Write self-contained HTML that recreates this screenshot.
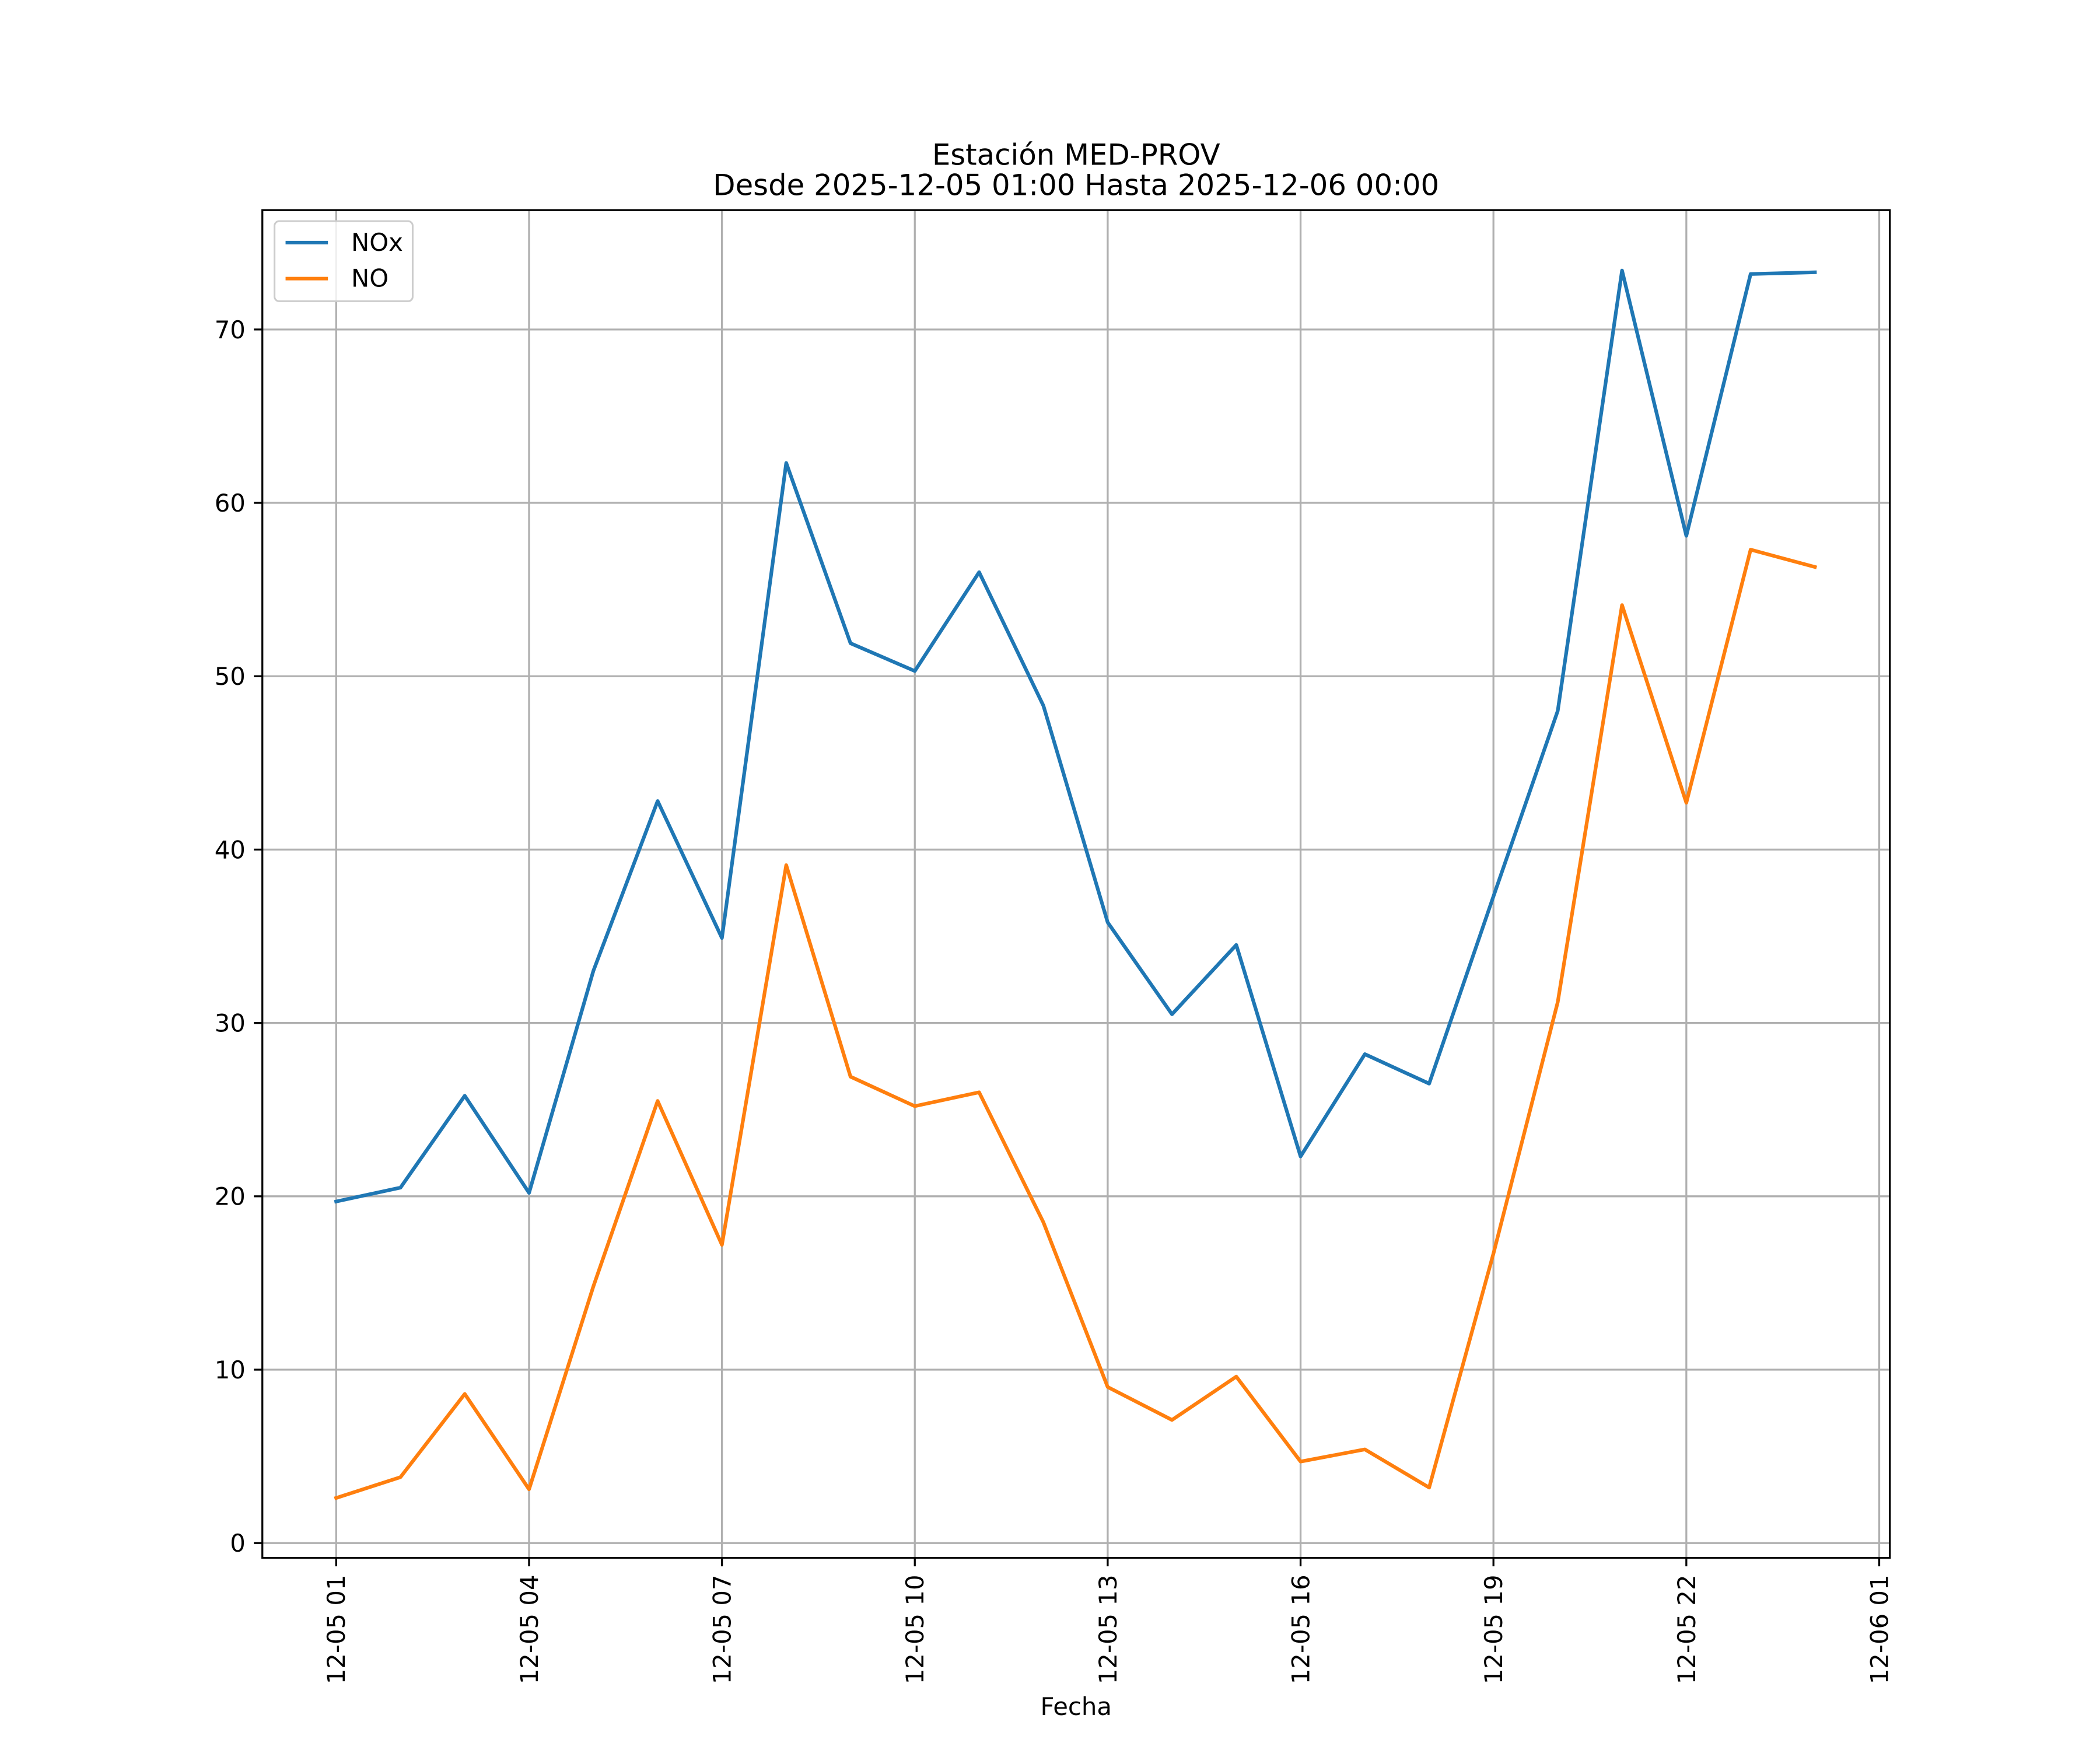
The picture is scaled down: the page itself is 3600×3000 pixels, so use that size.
<!DOCTYPE html>
<html><head><meta charset="utf-8"><style>
html,body{margin:0;padding:0;background:#fff;}
svg{display:block;font-family:"DejaVu Sans","Liberation Sans",sans-serif;}
</style></head><body>
<svg id="chart" width="3600" height="3000" viewBox="0 0 3600 3000" xmlns="http://www.w3.org/2000/svg">
<rect width="3600" height="3000" fill="#fff"/>
<g transform="scale(0.995)">
<g id="grid"></g><g id="series"></g><g id="axes"></g>
<text x="1854" y="284" font-size="50" text-anchor="middle">Estación MED-PROV</text>
<text x="1854" y="336" font-size="50" text-anchor="middle">Desde 2025-12-05 01:00 Hasta 2025-12-06 00:00</text>
<text x="1854" y="2955" font-size="42" text-anchor="middle">Fecha</text>
<g>
<rect x="473" y="381" width="238" height="138" rx="8" fill="#fff" fill-opacity="0.8" stroke="#ccc" stroke-width="3"/>
<line x1="492" y1="418" x2="565" y2="418" stroke="#1f77b4" stroke-width="6"/>
<text x="605" y="432" font-size="42">NOx</text>
<line x1="492" y1="480" x2="565" y2="480" stroke="#ff7f0e" stroke-width="6"/>
<text x="605" y="494" font-size="42">NO</text>
</g>
</g>
</svg>
<script>
const hours=[1,2,3,4,5,6,7,8,9,10,11,12,13,14,15,16,17,18,19,20,21,22,23,24];
const noxValues=[19.7,20.5,25.8,20.2,33,42.8,34.9,62.3,51.9,50.3,56,48.3,35.8,30.5,34.5,22.3,28.2,26.5,37.3,48,73.4,58.1,73.2,73.3];
const noValues=[2.6,3.8,8.6,3.1,14.8,25.5,17.2,39.1,26.9,25.2,26,18.5,9,7.1,9.6,4.7,5.4,3.2,16.7,31.2,54.1,42.7,57.3,56.3];
const xTickHours=[1,4,7,10,13,16,19,22,25];
const xTickLabels=["12-05 01","12-05 04","12-05 07","12-05 10","12-05 13","12-05 16","12-05 19","12-05 22","12-06 01"];
const yTicks=[0,10,20,30,40,50,60,70];
const L=452,R=3256,T=362,B=2684;
function xs(h){return 579.2+(h-1)*110.77;}
function ys(v){return 2658.5-v*29.869;}
const NS="http://www.w3.org/2000/svg";
function mk(tag,attrs,parent){const e=document.createElementNS(NS,tag);for(const k in attrs)e.setAttribute(k,attrs[k]);parent.appendChild(e);return e;}
const grid=document.getElementById('grid'),axes=document.getElementById('axes'),series=document.getElementById('series');
xTickHours.forEach((h,i)=>{
 const x=xs(h);
 const g=mk('line',{x1:x,x2:x,y1:T,y2:B,stroke:'#b0b0b0','stroke-width':3.3},grid);
 
 
 mk('line',{x1:x,x2:x,y1:B,y2:B+14.6,stroke:'#000','stroke-width':3.3},axes);
 const t=mk('text',{x:0,y:0,'font-size':42,'text-anchor':'end',transform:`translate(${x+15},${B+29}) rotate(-90)`},axes);
 t.textContent=xTickLabels[i];
 
 
});
yTicks.forEach(v=>{
 const y=ys(v);
 const g=mk('line',{x1:L,x2:R,y1:y,y2:y,stroke:'#b0b0b0','stroke-width':3.3},grid);
 
 
 mk('line',{x1:L-14.6,x2:L,y1:y,y2:y,stroke:'#000','stroke-width':3.3},axes);
 const t=mk('text',{x:L-29,y:y+15,'font-size':42,'text-anchor':'end'},axes);
 t.textContent=v;
 
 
});
const fr=mk('rect',{x:L,y:T,width:R-L,height:B-T,fill:'none',stroke:'#000','stroke-width':3.3},axes);


function line(vals,color,name){
 const p=mk('polyline',{points:vals.map((v,i)=>xs(hours[i])+','+ys(v)).join(' '),fill:'none',stroke:color,'stroke-width':6.25,'stroke-linejoin':'round','stroke-linecap':'square'},series);
 
 
}
line(noxValues,'#1f77b4','nox-line');
line(noValues,'#ff7f0e','no-line');
</script>
</body></html>
